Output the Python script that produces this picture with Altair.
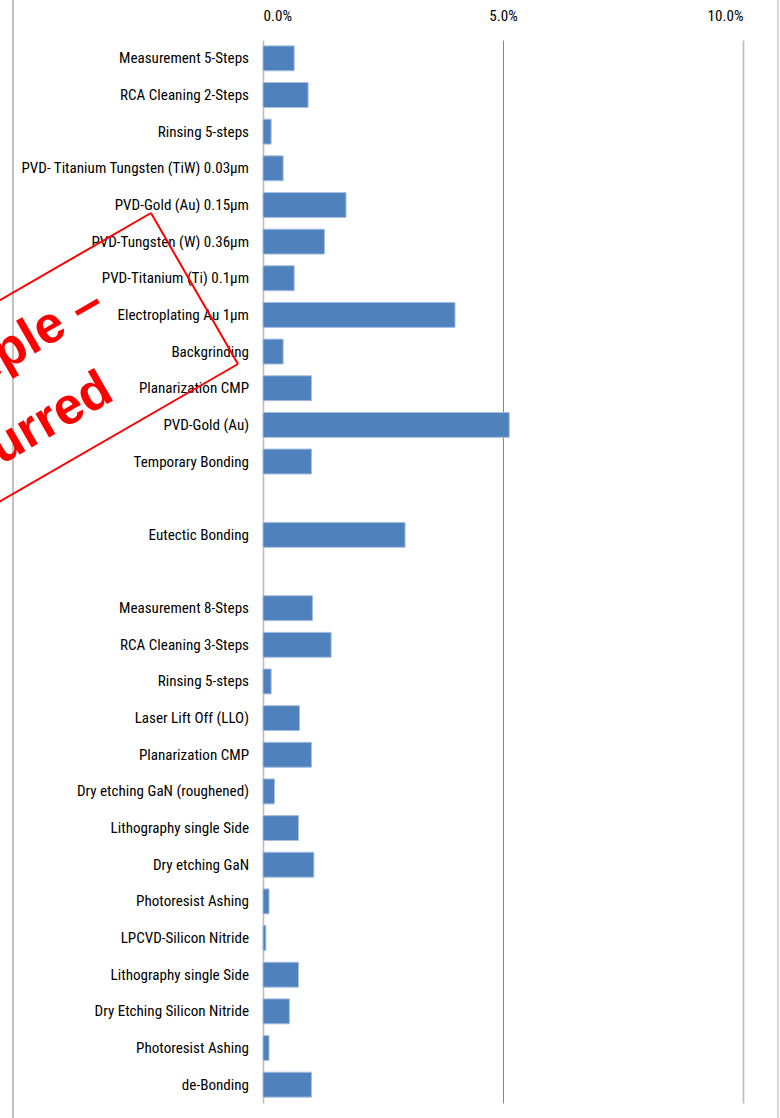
import altair as alt
import pandas as pd

# ---- data -------------------------------------------------------------
labels = [
    "Measurement 5-Steps",
    "RCA Cleaning 2-Steps",
    "Rinsing 5-steps",
    "PVD- Titanium Tungsten (TiW) 0.03µm",
    "PVD-Gold (Au) 0.15µm",
    "PVD-Tungsten (W) 0.36µm",
    "PVD-Titanium (Ti) 0.1µm",
    "Electroplating Au 1µm",
    "Backgrinding",
    "Planarization CMP",
    "PVD-Gold (Au)",
    "Temporary Bonding",
    "",
    "Eutectic Bonding",
    "",
    "Measurement 8-Steps",
    "RCA Cleaning 3-Steps",
    "Rinsing 5-steps",
    "Laser Lift Off (LLO)",
    "Planarization CMP",
    "Dry etching GaN (roughened)",
    "Lithography single Side",
    "Dry etching GaN",
    "Photoresist Ashing",
    "LPCVD-Silicon Nitride",
    "Lithography single Side",
    "Dry Etching Silicon Nitride",
    "Photoresist Ashing",
    "de-Bonding",
]
values = [
    0.0065, 0.0094, 0.0017, 0.0042, 0.0173, 0.0128, 0.0065, 0.0400,
    0.0042, 0.0101, 0.0513, 0.0101,
    None,
    0.0296,
    None,
    0.0103, 0.0142, 0.0017, 0.0076, 0.0101, 0.0024, 0.0074, 0.0106,
    0.00125, 0.0006, 0.0074, 0.0055, 0.00125, 0.0101,
]
x_ticks = [0.0, 0.05, 0.10]

df = pd.DataFrame({"idx": list(range(len(labels))), "label": labels, "value": values})

FONT = "'Roboto Condensed', 'Liberation Sans Narrow', 'Liberation Sans', sans-serif"
FS = 15.1

y_enc = alt.Y(
    "idx:O",
    axis=None,
    scale=alt.Scale(paddingInner=0.32, paddingOuter=0.16),
)

bars = alt.Chart(df).mark_bar(
    color="#4F81BD", stroke="#A7BFE0", strokeWidth=1
).encode(
    x=alt.X(
        "value:Q",
        scale=alt.Scale(domain=[0, 0.1], nice=False),
        axis=alt.Axis(
            orient="top",
            values=x_ticks,
            format=".1%",
            title=None,
            ticks=False,
            domain=False,
            grid=True,
            gridColor={
                "condition": {"test": "abs(datum.value - 0.05) < 1e-6", "value": "#868686"},
                "value": "#BDBDBD",
            },
            gridWidth={
                "condition": {"test": "abs(datum.value - 0.05) < 1e-6", "value": 1},
                "value": 1.6,
            },
            labelFont=FONT,
            labelFontSize=FS,
            labelColor="#000000",
            labelBaseline="alphabetic",
            labelPadding=20,
        ),
    ),
    y=y_enc,
)

text = alt.Chart(df).mark_text(
    align="right", baseline="middle", font=FONT, fontSize=FS, color="#000000", dy=0
).encode(
    y=y_enc,
    x=alt.value(-14),
    text="label:N",
)

one = pd.DataFrame({"a": [0]})

# page frame lines
frame_left = alt.Chart(one).mark_rule(color="#9A9A9A", strokeWidth=1.2).encode(
    x=alt.value(-250), y=alt.value(-40), y2=alt.value(1078)
)
frame_right = alt.Chart(one).mark_rule(color="#BDBDBD", strokeWidth=1.2).encode(
    x=alt.value(515), y=alt.value(-40), y2=alt.value(1078)
)

# red sample stamp (watermark)
RED = "#FF0000"
stamp_edges = [
    ((-112, 173), (-25, 324)),
    ((-25, 324), (-368, 522)),
    ((-455, 371), (-112, 173)),
]
stamp_layers = []
for (x1, y1), (x2, y2) in stamp_edges:
    stamp_layers.append(
        alt.Chart(one).mark_rule(color=RED, strokeWidth=2).encode(
            x=alt.value(x1), y=alt.value(y1), x2=alt.value(x2), y2=alt.value(y2)
        )
    )
stamp_text1 = alt.Chart(one).mark_text(
    text="Sample –", angle=330, align="center", baseline="alphabetic",
    font="Liberation Sans", fontWeight="bold", fontSize=52, color=RED,
).encode(x=alt.value(-255), y=alt.value(329))
stamp_text2 = alt.Chart(one).mark_text(
    text="Blurred", angle=330, align="center", baseline="alphabetic",
    font="Liberation Sans", fontWeight="bold", fontSize=52, color=RED,
).encode(x=alt.value(-227), y=alt.value(405))

chart = alt.layer(
    frame_left, frame_right, bars, text, *stamp_layers, stamp_text1, stamp_text2
).properties(
    width=480,
    height=1063,
    autosize=alt.AutoSizeParams(type="none"),
    padding={"left": 263, "top": 40, "right": 37, "bottom": 15},
    background="#FFFFFF",
).configure_view(strokeWidth=0)

chart.save("out.html", embed_options={"renderer": "svg", "actions": False})
